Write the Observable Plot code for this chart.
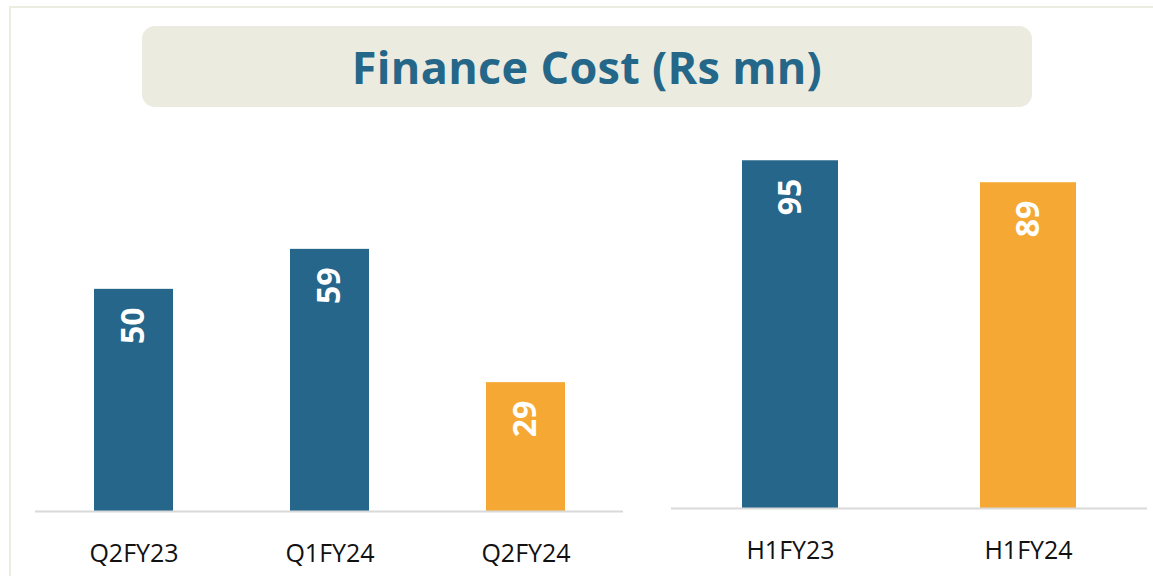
<!DOCTYPE html>
<html>
<head>
<meta charset="utf-8">
<script src="https://cdn.jsdelivr.net/npm/d3@7"></script>
<script src="https://cdn.jsdelivr.net/npm/@observablehq/plot@0.6"></script>
<style>
  html, body { margin: 0; padding: 0; background: #ffffff; }
  body { width: 1153px; height: 576px; position: relative; overflow: hidden; font-family: "Open Sans", sans-serif; }
  #frame { position: absolute; left: 9px; top: 6px; width: 1160px; height: 600px; border: 2px solid #ECECE1; box-sizing: border-box; }
  #title { position: absolute; left: 142px; top: 26px; width: 890px; height: 81px; background: #ECEBE0; border-radius: 13px;
           display: flex; align-items: center; justify-content: center; color: #256788; font-family: "Open Sans", sans-serif;
           font-weight: 700; font-size: 45px; letter-spacing: 0.3px; }
  #left { position: absolute; left: 0px; top: 120px; }
  #right { position: absolute; left: 640px; top: 120px; }
</style>
</head>
<body>
<div id="frame"></div>
<div id="title">Finance Cost (Rs mn)</div>
<div id="left"></div>
<div id="right"></div>
<script>
const quarterCategories = ["Q2FY23", "Q1FY24", "Q2FY24"];
const quarterValues = [50, 59, 29];
const halfCategories = ["H1FY23", "H1FY24"];
const halfValues = [95, 89];
const blue = "#25668A";
const orange = "#F5A833";
const quarterColors = [blue, blue, orange];
const halfColors = [blue, orange];

function makeChart(cats, vals, cols, opts) {
  const data = cats.map((c, i) => ({cat: c, value: vals[i], color: cols[i]}));
  return Plot.plot({
    width: opts.width,
    height: opts.height,
    marginLeft: opts.marginLeft,
    marginRight: opts.marginRight,
    marginTop: 0,
    marginBottom: opts.marginBottom,
    style: {background: "transparent", fontFamily: "Open Sans, sans-serif"},
    x: {domain: cats, paddingInner: 0.597, paddingOuter: 0.2985, align: 0.5},
    y: {domain: [0, opts.ymax], axis: null},
    marks: [
      Plot.barY(data, {x: "cat", y: "value", fill: "color"}),
      Plot.ruleY([0], {stroke: "#D9D9D9", strokeWidth: 2}),
      Plot.text(data, {x: "cat", y: "value", text: d => String(d.value), rotate: -90, textAnchor: "end",
        lineAnchor: "middle", dy: 18, fill: "white", fontSize: 32, fontWeight: 700}),
      Plot.axisX({tickSize: 0, tickPadding: 33, fontSize: 25, fill: "#111111", label: null,
        style: {letterSpacing: "0.6px"}})
    ]
  });
}

document.getElementById("left").append(makeChart(quarterCategories, quarterValues, quarterColors,
  {width: 627, height: 451, marginLeft: 35, marginRight: 4, marginBottom: 60, ymax: 88}));
document.getElementById("right").append(makeChart(halfCategories, halfValues, halfColors,
  {width: 513, height: 448, marginLeft: 31, marginRight: 6, marginBottom: 60, ymax: 106}));
</script>
</body>
</html>
